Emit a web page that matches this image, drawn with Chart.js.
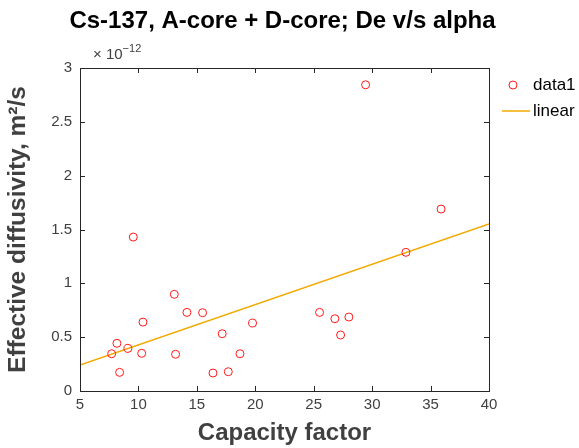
<!DOCTYPE html>
<html>
<head>
<meta charset="utf-8">
<script src="https://cdn.jsdelivr.net/npm/chart.js@4/dist/chart.umd.min.js"></script>
<style>
  html, body { margin: 0; padding: 0; background: #fff; }
  #wrap { width: 579px; height: 448px; position: relative; }
</style>
</head>
<body>
<div id="wrap"><canvas id="myChart" width="579" height="448"></canvas></div>
<script>
'use strict';

// capacity factor (x) and effective diffusivity in units of 1e-12 m^2/s (y)
var capacity = [7.71, 8.16, 8.39, 9.10, 9.56, 10.28, 10.39, 13.07, 13.18, 14.15, 15.49, 16.38,
  17.17, 17.69, 18.69, 19.77, 25.5, 26.81, 27.30, 28.01, 32.89, 29.44, 35.9];
var diffusivity = [0.346, 0.443, 0.173, 0.396, 1.43, 0.35, 0.64, 0.898, 0.341, 0.73, 0.727, 0.167,
  0.532, 0.179, 0.346, 0.631, 0.73, 0.671, 0.52, 0.687, 1.288, 2.844, 1.69];

// linear fit end points
var fitX = [5, 40];
var fitY = [0.241, 1.551];

var xTicks = [5, 10, 15, 20, 25, 30, 35, 40];
var yTicks = [0, 0.5, 1, 1.5, 2, 2.5, 3];
var chartTitle = 'Cs-137, A-core + D-core; De v/s alpha';
var exponentLabel = '× 10';
var exponentPower = '−12';

var axisColor = '#262626';
var tickColor = '#404040';
var fontName = '"Liberation Sans", Arial, Helvetica, sans-serif';

var points = [];
for (var i = 0; i < capacity.length; i++) {
  points.push({ x: capacity[i], y: diffusivity[i] });
}
var fitPoints = [];
for (var j = 0; j < fitX.length; j++) {
  fitPoints.push({ x: fitX[j], y: fitY[j] });
}

// title over the plot, box around it, inward ticks, exponent and legend
var framePlugin = {
  id: 'frame',
  afterDraw: function (chart) {
    var ctx = chart.ctx;
    var a = chart.chartArea;
    var xs = chart.scales.x;
    var ys = chart.scales.y;
    ctx.save();

    ctx.fillStyle = '#000';
    ctx.font = 'bold 24px ' + fontName;
    ctx.textAlign = 'center';
    ctx.textBaseline = 'middle';
    ctx.fillText(chartTitle, (a.left + a.right) / 2 - 2, 21);

    ctx.strokeStyle = axisColor;
    ctx.lineWidth = 1;
    ctx.strokeRect(Math.round(a.left) + 0.5, Math.round(a.top) + 0.5,
      Math.round(a.right - a.left), Math.round(a.bottom - a.top));
    ctx.beginPath();
    xTicks.forEach(function (v) {
      var px = Math.round(xs.getPixelForValue(v)) + 0.5;
      ctx.moveTo(px, a.bottom); ctx.lineTo(px, a.bottom - 5);
      ctx.moveTo(px, a.top); ctx.lineTo(px, a.top + 5);
    });
    yTicks.forEach(function (v) {
      var py = Math.round(ys.getPixelForValue(v)) + 0.5;
      ctx.moveTo(a.left, py); ctx.lineTo(a.left + 5, py);
      ctx.moveTo(a.right, py); ctx.lineTo(a.right - 5, py);
    });
    ctx.stroke();

    // exponent above the y axis
    ctx.fillStyle = tickColor;
    ctx.textBaseline = 'alphabetic';
    ctx.textAlign = 'left';
    ctx.font = '15px ' + fontName;
    ctx.fillText(exponentLabel, a.left + 13, a.top - 9);
    var w = ctx.measureText(exponentLabel).width;
    ctx.font = '11px ' + fontName;
    ctx.fillText(exponentPower, a.left + 13 + w, a.top - 16);

    // legend
    var lx = a.right + 13;
    ctx.font = '17px ' + fontName;
    ctx.fillStyle = '#000';
    ctx.textBaseline = 'middle';
    var d0 = chart.data.datasets[0];
    var d1 = chart.data.datasets[1];
    ctx.strokeStyle = d0.borderColor;
    ctx.beginPath();
    ctx.arc(lx + 11, 85, 4, 0, Math.PI * 2);
    ctx.stroke();
    ctx.fillText(d0.label, lx + 31, 85);
    ctx.strokeStyle = d1.borderColor;
    ctx.lineWidth = 1.5;
    ctx.beginPath();
    ctx.moveTo(lx, 111); ctx.lineTo(lx + 28, 111);
    ctx.stroke();
    ctx.fillText(d1.label, lx + 31, 111);
    ctx.restore();
  }
};

var ctx = document.getElementById('myChart').getContext('2d');
var chart = new Chart(ctx, {
  type: 'scatter',
  data: {
    datasets: [{
      label: 'data1',
      data: points,
      borderColor: '#ff1a1a',
      backgroundColor: 'rgba(0,0,0,0)',
      pointRadius: 4,
      pointBorderWidth: 1,
      pointHoverRadius: 4,
      showLine: false
    }, {
      label: 'linear',
      data: fitPoints,
      borderColor: '#f2aa00',
      backgroundColor: '#f2aa00',
      borderWidth: 1.5,
      pointRadius: 0,
      showLine: true
    }]
  },
  options: {
    responsive: false,
    animation: false,
    layout: { padding: { left: 0, right: 90, top: 68, bottom: 0 } },
    plugins: {
      legend: { display: false },
      tooltip: { enabled: false },
      title: { display: false }
    },
    scales: {
      x: {
        type: 'linear',
        min: 5, max: 40,
        afterBuildTicks: function (s) { s.ticks = xTicks.map(function (v) { return { value: v }; }); },
        afterFit: function (s) { s.height = 57; },
        grid: { display: false, drawTicks: false },
        border: { display: false },
        ticks: {
          color: tickColor,
          padding: 5,
          font: { family: fontName, size: 15 },
          maxRotation: 0
        },
        title: {
          display: true,
          text: 'Capacity factor',
          color: tickColor,
          font: { family: fontName, size: 24, weight: 'bold' },
          padding: { top: 0, bottom: 0 }
        }
      },
      y: {
        type: 'linear',
        min: 0, max: 3,
        afterBuildTicks: function (s) { s.ticks = yTicks.map(function (v) { return { value: v }; }); },
        afterFit: function (s) { s.width = 80; },
        grid: { display: false, drawTicks: false },
        border: { display: false },
        ticks: {
          color: tickColor,
          padding: 8,
          font: { family: fontName, size: 15 },
          callback: function (v) { return String(v); }
        },
        title: {
          display: true,
          text: 'Effective diffusivity, m²/s',
          color: tickColor,
          font: { family: fontName, size: 24.5, weight: 'bold' },
          padding: { top: 4, bottom: 0 }
        }
      }
    }
  },
  plugins: [framePlugin]
});
</script>
</body>
</html>
